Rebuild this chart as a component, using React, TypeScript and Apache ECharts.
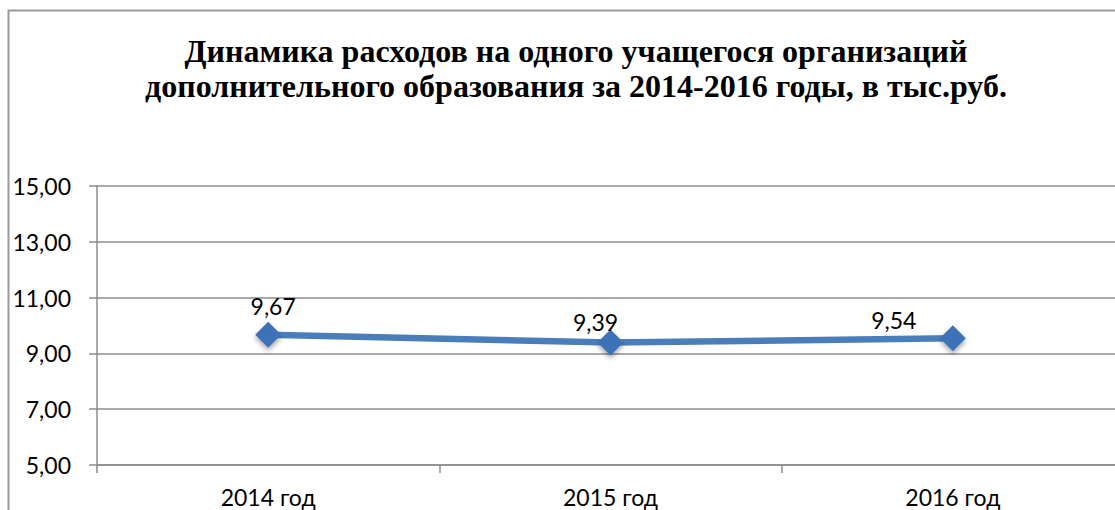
import React, { useEffect, useRef } from "react";
import * as echarts from "echarts";

const categories = ["2014 год", "2015 год", "2016 год"];
const values = [9.67, 9.39, 9.54];
const yMin = 5;
const yMax = 15;
const yStep = 2;
const titleLines = [
  "Динамика расходов на одного учащегося организаций",
  "дополнительного образования за 2014-2016 годы, в тыс.руб.",
];

const fmt = (v: number) => v.toFixed(2).replace(".", ",");

export default function App() {
  const ref = useRef<HTMLDivElement>(null);
  useEffect(() => {
    if (!ref.current) return;
    const chart = echarts.init(ref.current, undefined, { renderer: "svg" });
    const grey = "#8c8c8c";
    const labelShifts: [number, number][] = [
      [5, 0],
      [-15, 8],
      [-59, 10],
    ];
    chart.setOption({
      animation: false,
      backgroundColor: "#ffffff",
      title: {
        text: titleLines.join("\n"),
        left: 571,
        textAlign: "center",
        top: 28,
        textStyle: {
          fontFamily: "'Liberation Serif', 'Times New Roman', serif",
          fontWeight: "bold",
          fontSize: 32,
          lineHeight: 35,
          color: "#000",
        },
      },
      graphic: [
        {
          type: "rect",
          shape: { x: 8.5, y: 10.5, width: 1200, height: 600 },
          style: { fill: "none", stroke: "#9a9a9a", lineWidth: 2 },
          silent: true,
          z: -1,
        },
      ],
      grid: { left: 97, top: 186, width: 1027, height: 279 },
      xAxis: {
        type: "category",
        data: categories,
        boundaryGap: true,
        axisLine: { show: true, lineStyle: { color: grey, width: 1.5 } },
        axisTick: { show: true, length: 8, lineStyle: { color: grey, width: 1.5 } },
        axisLabel: {
          margin: 20,
          fontFamily: "Lato",
          fontSize: 23,
          color: "#000",
        },
        splitLine: { show: false },
      },
      yAxis: {
        type: "value",
        min: yMin,
        max: yMax,
        interval: yStep,
        axisLine: { show: true, lineStyle: { color: grey, width: 1.5 } },
        axisTick: { show: true, length: 8, lineStyle: { color: grey, width: 1.5 } },
        axisLabel: {
          margin: 26,
          fontFamily: "Lato",
          fontSize: 23,
          color: "#000",
          formatter: (v: number) => fmt(v),
        },
        splitLine: { show: true, lineStyle: { color: grey, width: 1.5 } },
      },
      series: [
        {
          type: "line",
          data: values.map((v, i) => ({
            value: v,
            label: { offset: labelShifts[i] },
          })),
          symbol: "diamond",
          symbolSize: [26, 26],
          lineStyle: { color: "#4a7ebb", width: 6.5 },
          itemStyle: {
            color: "#3d72b8",
            shadowColor: "rgba(0,0,0,0.35)",
            shadowBlur: 5,
            shadowOffsetY: 3,
          },
          label: {
            show: true,
            position: "top",
            distance: 4,
            fontFamily: "Lato",
            fontSize: 23,
            color: "#000",
            formatter: (p: any) => fmt(p.value),
          },
        },
      ],
    });
    return () => chart.dispose();
  }, []);
  return (
    <div
      style={{
        position: "fixed",
        left: 0,
        top: 0,
        width: 1115,
        height: 510,
        overflow: "hidden",
        background: "#fff",
      }}
    >
      <div ref={ref} style={{ width: 1140, height: 510 }} />
    </div>
  );
}
